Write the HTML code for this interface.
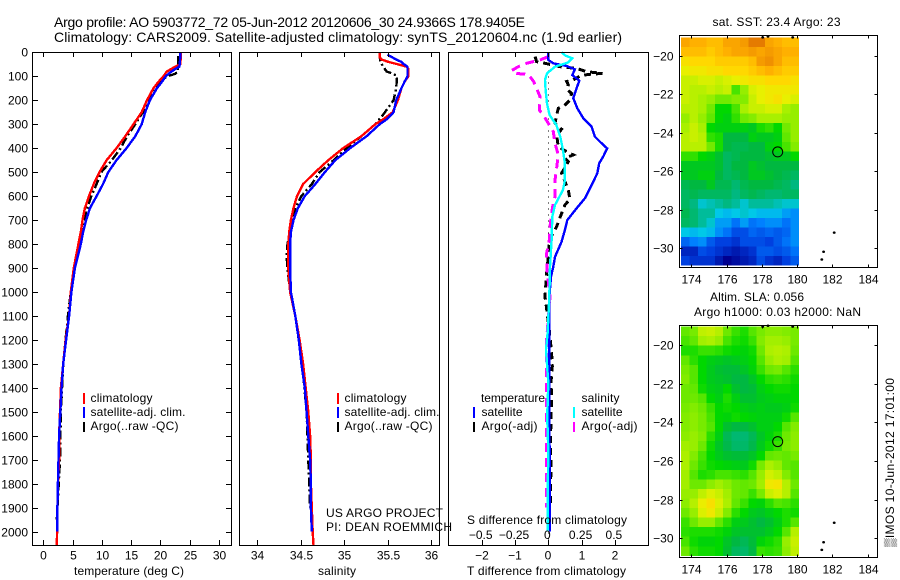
<!DOCTYPE html>
<html lang="en">
<head>
<meta charset="utf-8">
<title>Argo profile 5903772_72</title>
<style>
html,body{margin:0;padding:0;background:#fff;width:900px;height:580px;overflow:hidden}
svg{display:block}
text{font-family:"Liberation Sans",Arial,sans-serif;font-size:12px;fill:#000}
.title{font-size:14px}
</style>
</head>
<body>
<svg id="chart" xmlns="http://www.w3.org/2000/svg" width="900" height="580" viewBox="0 0 900 580">
  <rect x="0" y="0" width="900" height="580" fill="#fff"/>
  <g id="layer-maps"></g>
  <g id="layer-profiles"></g>
  <g id="layer-axes"></g>

  <text class="title" x="54" y="27" textLength="471" lengthAdjust="spacing">Argo profile: AO 5903772_72 05-Jun-2012 20120606_30 24.9366S 178.9405E</text>
  <text class="title" x="54" y="42" textLength="568" lengthAdjust="spacing">Climatology: CARS2009. Satellite-adjusted climatology: synTS_20120604.nc (1.9d earlier)</text>

  <text x="74" y="575" textLength="110" lengthAdjust="spacing">temperature (deg C)</text>
  <text x="318" y="575" textLength="38" lengthAdjust="spacing">salinity</text>
  <text x="467" y="575" textLength="159" lengthAdjust="spacing">T difference from climatology</text>
  <text x="467" y="524" textLength="160" lengthAdjust="spacing">S difference from climatology</text>

  <g>
    <rect x="83" y="393" width="2" height="11" fill="#f00"/>
    <rect x="83" y="407" width="2" height="11" fill="#00f"/>
    <rect x="83" y="422" width="2" height="10" fill="#000"/>
    <text x="90.5" y="402" textLength="62" lengthAdjust="spacing">climatology</text>
    <text x="90.5" y="416" textLength="95" lengthAdjust="spacing">satellite-adj. clim.</text>
    <text x="90.5" y="430" textLength="88" lengthAdjust="spacing">Argo(..raw -QC)</text>
  </g>
  <g>
    <rect x="337" y="393" width="2" height="11" fill="#f00"/>
    <rect x="337" y="407" width="2" height="11" fill="#00f"/>
    <rect x="337" y="422" width="2" height="10" fill="#000"/>
    <text x="344.5" y="402" textLength="62" lengthAdjust="spacing">climatology</text>
    <text x="344.5" y="416" textLength="95" lengthAdjust="spacing">satellite-adj. clim.</text>
    <text x="344.5" y="430" textLength="88" lengthAdjust="spacing">Argo(..raw -QC)</text>
  </g>
  <g>
    <text x="481" y="402" textLength="64" lengthAdjust="spacing">temperature</text>
    <rect x="473" y="407" width="2" height="11" fill="#00f"/>
    <rect x="473" y="422" width="2" height="10" fill="#000"/>
    <text x="481.5" y="416" textLength="41" lengthAdjust="spacing">satellite</text>
    <text x="481.5" y="430" textLength="56" lengthAdjust="spacing">Argo(-adj)</text>
    <text x="581.5" y="402" textLength="38" lengthAdjust="spacing">salinity</text>
    <rect x="573" y="407" width="2" height="11" fill="#0ff"/>
    <rect x="573" y="422" width="2" height="10" fill="#f0f"/>
    <text x="581.5" y="416" textLength="41" lengthAdjust="spacing">satellite</text>
    <text x="581.5" y="430" textLength="56" lengthAdjust="spacing">Argo(-adj)</text>
  </g>

  <text x="326" y="517" textLength="117" lengthAdjust="spacing">US ARGO PROJECT</text>
  <text x="326" y="531" textLength="126" lengthAdjust="spacing">PI: DEAN ROEMMICH</text>

  <text x="712.5" y="26" textLength="128" lengthAdjust="spacing">sat. SST: 23.4 Argo: 23</text>
  <text x="710" y="301" textLength="94" lengthAdjust="spacing">Altim. SLA: 0.056</text>
  <text x="694" y="316" textLength="167" lengthAdjust="spacing">Argo h1000: 0.03 h2000: NaN</text>
  <text transform="translate(894 547) rotate(-90)" x="0" y="0" textLength="169" lengthAdjust="spacing">▒IMOS 10-Jun-2012 17:01:00</text>
</svg>

<script>
/* ---------- axis tick labels ---------- */
var depthTicks = [0,100,200,300,400,500,600,700,800,900,1000,1100,1200,1300,1400,1500,1600,1700,1800,1900,2000];
var temperatureTicks = [0,5,10,15,20,25,30];
var salinityTicks = [34,34.5,35,35.5,36];
var tDiffTicks = [-2,-1,0,1,2];
var sDiffTicks = [-0.5,-0.25,0,0.25,0.5];
var lonTicks = [174,176,178,180,182,184];
var latTicks = [-20,-22,-24,-26,-28,-30];

/* ---------- temperature profiles (deg C) ---------- */
var tempClimDepths = [0,50,60,80,100,125,150,200,250,300,350,400,450,500,550,600,650,700,750,800,900,1000,1100,1200,1300,1400,1500,1600,1700,1800,1900,2000,2057];
var tempClimValues = [23.5,23.4,22.5,21.1,20.5,19.6,18.8,17.7,16.8,15.4,14,12.5,10.8,9.6,8.6,7.8,7.1,6.7,6.4,6.0,5.2,4.7,4.4,3.8,3.4,3.0,2.85,2.7,2.7,2.5,2.4,2.35,2.3];
var tempSatDepths = [0,50,60,70,85,100,125,150,200,250,300,350,400,450,500,550,600,650,700,750,800,900,1000,1100,1200,1300,1400,1500,1600,1700,1800,1900,2000];
var tempSatValues = [23.4,23.3,23.2,22.5,21.6,20.9,20.2,19.4,18.2,17.4,16.8,15.7,14.2,12.5,11.1,10.2,9.1,7.98,7.3,6.8,6.4,5.4,4.8,4.4,3.9,3.4,3.1,2.9,2.7,2.6,2.5,2.4,2.4];
var tempArgoDepths = [15,80,90,100,125,150,200,250,300,350,400,450,500,550,600,650,700,800,900,1000,1100,1300,1500,1700,1950];
var tempArgoValues = [23,23,22.5,21.1,20,19.1,18,17,15.7,14.3,13.2,11.7,9.9,9.1,8.2,7.5,6.9,6.1,5.2,4.7,4.2,3.4,3,2.85,2.3];

/* ---------- salinity profiles ---------- */
var salClimDepths = [0,20,30,40,50,60,70,100,120,150,200,250,280,300,350,400,450,500,550,600,650,700,750,800,900,1000,1100,1200,1300,1400,1500,1600,1700,1800,1900,2000,2057];
var salClimValues = [35.41,35.41,35.43,35.51,35.62,35.72,35.74,35.74,35.7,35.66,35.62,35.56,35.45,35.36,35.2,34.99,34.82,34.67,34.53,34.46,34.42,34.39,34.37,34.36,34.36,34.38,34.44,34.49,34.53,34.56,34.59,34.61,34.62,34.62,34.63,34.64,34.65];
var salSatDepths = [10,20,30,40,50,60,100,120,150,200,250,280,300,350,400,450,500,550,600,650,700,750,800,900,1000,1100,1200,1300,1400,1500,1600,1700,1800,1900,2000];
var salSatValues = [35.5,35.55,35.6,35.66,35.69,35.73,35.73,35.7,35.66,35.6,35.57,35.49,35.41,35.26,35.07,34.9,34.78,34.67,34.55,34.47,34.42,34.39,34.38,34.38,34.39,34.44,34.48,34.51,34.55,34.57,34.59,34.61,34.62,34.62,34.63];
var salArgoDepths = [0,20,40,60,80,90,100,150,200,230,260,300,350,400,450,500,550,600,650,700,800,850,900,1000,1100,1300,1500,1700,1900];
var salArgoValues = [35.41,35.41,35.42,35.45,35.49,35.57,35.61,35.6,35.57,35.51,35.45,35.36,35.2,35.03,34.88,34.72,34.63,34.51,34.44,34.4,34.35,34.34,34.35,34.38,34.44,34.52,34.57,34.59,34.61];

/* ---------- differences from climatology ---------- */
var tDiffSatDepths = [0,32,46,57,71,95,118,150,192,233,275,310,352,373,401,435,463,505,554,609,651,700,741,790,853,894,936,1020,1300,1700,2000];
var tDiffSatValues = [0,0,0.15,0.55,0.8,0.72,0.93,0.85,0.75,0.87,1.05,1.3,1.4,1.55,1.77,1.65,1.53,1.47,1.3,1.1,0.85,0.57,0.5,0.4,0.2,0.15,0.08,0.03,0.03,0.04,0.05];
var tDiffArgoDepths = [18,39,46,60,67,81,88,92,99,115,122,136,157,171,199,220,234,262,296,321,345,394,419,428,442,456,505,574,613,637,672,727,783,853,921,1020,1069,1160,1255,1310,1375,1445,1530,1600,1660,1730,1800,1890];
var tDiffArgoValues = [-0.4,-0.35,-0.1,0.35,0.85,1.15,1.63,1.2,0.95,0.75,0.55,0.6,0.57,0.7,0.65,0.5,0.3,0.25,0.2,0.4,0.25,0.3,0.6,0.75,0.5,0.6,0.4,0.6,0.65,0.5,0.4,0.25,0.03,0,-0.05,-0.1,-0.05,0.03,0.1,0.12,0.08,0.1,0.08,0.07,0.07,0.08,0.07,0.07];
var sDiffSatDepths = [0,14,25,42,60,88,115,157,213,262,303,352,408,463,533,574,637,686,783,894,1020,1171,1240,1380,1520,1660,1870,1995];
var sDiffSatValues = [0.1,0.13,0.18,0.15,0.05,-0.01,-0.025,-0.02,-0.01,0.01,0.06,0.09,0.11,0.125,0.125,0.11,0.05,0.03,0.025,0.0125,0.0075,-0.005,-0.0175,0,-0.008,0,-0.005,-0.005];
var sDiffArgoDepths = [18,32,46,60,76,88,92,122,150,185,241,261,296,331,380,428,484,533,602,644,727,783,838,921,1020,1200,1500,1700,1900];
var sDiffArgoValues = [0,-0.0625,-0.1625,-0.225,-0.275,-0.25,-0.15,-0.11,-0.0875,-0.0625,-0.0675,-0.0375,0,0.0375,0.05,0.075,0.0625,0.05,0.05,0.0325,0.0125,0.0075,-0.0125,-0.0075,0.0125,-0.0125,-0.0125,-0.0125,-0.0125];
var zeroLineDepths = [0,2057];
var zeroLineValues = [0,0];

/* ---------- map grids: cells about 0.5 degree, north to south ---------- */
var gridLons = [173.42,173.9,174.37,174.85,175.33,175.8,176.28,176.76,177.24,177.71,178.19,178.67,179.14,179.62];
var gridLats = [-19.05,-19.544,-20.038,-20.532,-21.026,-21.52,-22.014,-22.508,-23.002,-23.496,-23.99,-24.484,-24.978,-25.472,-25.966,-26.46,-26.954,-27.448,-27.942,-28.436,-28.93,-29.424,-29.918,-30.412];
var sstRows = [
[25.1,25.0,25.0,24.9,24.9,25.1,25.1,25.2,25.5,25.5,25.1,25.0,24.9,24.9],
[24.9,24.9,24.9,24.8,24.9,25.0,25.1,25.1,25.2,25.1,25.2,25.1,25.0,25.0],
[24.6,24.7,24.7,24.7,24.8,24.8,24.8,24.8,24.9,25.2,25.3,25.1,24.9,24.9],
[24.4,24.5,24.5,24.6,24.6,24.7,24.7,24.7,24.8,24.9,25.0,24.9,24.8,24.8],
[24.2,24.2,24.3,24.3,24.2,24.3,24.4,24.5,24.6,24.6,24.7,24.7,24.7,24.6],
[24.2,24.1,24.1,24.2,24.1,24.2,23.5,23.9,24.3,24.4,24.5,24.5,24.5,24.5],
[24.2,24.1,24.0,23.9,23.7,23.7,23.8,23.8,24.2,24.4,24.5,24.6,24.4,24.3],
[24.1,24.1,24.0,23.7,23.2,23.2,23.5,24.0,24.2,24.2,24.3,24.3,24.0,23.9],
[23.9,24.1,23.9,23.6,23.2,23.1,23.4,23.7,23.8,24.0,24.0,24.0,23.9,23.9],
[24.0,24.2,24.0,23.2,23.1,23.1,23.1,23.1,23.0,23.3,23.4,23.2,23.7,23.9],
[24.1,24.2,24.1,23.4,23.3,22.8,22.8,22.8,23.1,23.0,23.0,23.1,23.6,23.9],
[24.1,24.1,24.1,23.7,23.3,22.8,22.7,22.7,22.8,22.8,23.1,23.2,23.5,23.8],
[23.4,23.4,23.2,23.1,22.9,22.6,22.7,22.8,22.8,22.8,22.9,23.0,23.0,23.2],
[23.0,23.0,23.0,23.0,22.9,22.6,22.8,22.8,23.0,22.9,22.8,22.8,22.8,22.8],
[23.0,23.0,23.1,23.1,22.8,22.6,22.7,22.8,23.0,23.0,22.9,22.8,22.7,22.6],
[22.7,22.8,22.8,23.0,22.7,22.7,22.5,22.7,22.8,22.8,22.8,22.7,22.6,22.4],
[22.6,22.7,22.6,22.6,22.6,22.6,22.4,22.6,22.7,22.6,22.5,22.5,22.6,22.6],
[22.6,22.4,22.1,22.2,22.3,22.4,22.3,22.1,22.3,22.3,22.3,22.2,22.1,22.1],
[22.7,22.5,22.3,22.3,22.0,21.9,22.0,22.1,22.0,21.9,21.9,21.9,21.7,21.6],
[22.6,22.5,22.3,22.1,21.7,21.7,21.4,21.7,21.4,21.5,21.6,21.6,21.4,21.6],
[22.0,21.9,22.0,21.9,21.6,21.4,21.1,21.1,21.3,21.2,21.3,21.2,21.3,21.6],
[21.3,21.5,21.6,21.2,21.0,21.0,20.9,21.1,21.1,21.1,21.0,21.2,21.4,21.6],
[20.8,20.8,21.1,21.0,20.9,20.8,20.7,20.8,20.9,21.2,21.2,21.1,21.2,21.4],
[21.0,20.9,20.9,20.9,20.7,20.5,20.6,20.7,20.8,21.1,20.9,20.8,21.0,21.2]
];
var slaRows = [
[0.09,0.11,0.18,0.19,0.17,0.10,0.06,0.04,0.08,0.11,0.13,0.13,0.12,0.11],
[0.07,0.09,0.15,0.16,0.14,0.07,0.04,0.03,0.06,0.12,0.15,0.15,0.14,0.11],
[0.04,0.04,0.06,0.06,0.05,0.03,0.02,0.01,0.03,0.10,0.16,0.17,0.16,0.10],
[0.09,0.05,0.02,0.00,-0.01,-0.02,-0.01,0.00,0.02,0.08,0.14,0.16,0.15,0.08],
[0.11,0.08,0.02,-0.01,-0.03,-0.04,-0.04,-0.02,0.01,0.06,0.10,0.11,0.08,0.05],
[0.12,0.08,0.02,-0.01,-0.02,-0.03,-0.05,-0.05,-0.02,0.02,0.05,0.06,0.05,0.03],
[0.10,0.09,0.03,0.00,-0.01,0.02,-0.03,-0.05,-0.04,0.00,0.02,0.03,0.03,0.02],
[0.10,0.10,0.08,0.02,0.00,0.04,0.00,-0.03,-0.03,-0.01,0.00,0.01,0.01,0.02],
[0.11,0.12,0.10,0.06,0.02,0.03,0.02,0.00,-0.01,0.00,-0.01,-0.01,0.00,0.03],
[0.12,0.13,0.11,0.07,0.02,0.01,0.03,0.02,0.01,0.00,0.00,0.00,0.03,0.08],
[0.12,0.13,0.11,0.08,0.02,-0.03,-0.05,-0.05,-0.03,0.00,0.00,0.02,0.08,0.12],
[0.13,0.14,0.12,0.05,0.00,-0.07,-0.10,-0.10,-0.07,-0.02,0.01,0.04,0.10,0.13],
[0.15,0.14,0.10,0.03,-0.02,-0.06,-0.09,-0.09,-0.06,-0.01,0.03,0.06,0.11,0.13],
[0.16,0.12,0.07,0.02,-0.01,-0.03,-0.04,-0.04,-0.02,0.02,0.09,0.10,0.09,0.11],
[0.16,0.10,0.06,0.03,0.02,0.01,0.00,-0.01,0.03,0.11,0.16,0.14,0.09,0.08],
[0.15,0.08,0.04,0.05,0.07,0.07,0.06,0.05,0.08,0.14,0.20,0.18,0.12,0.08],
[0.15,0.10,0.10,0.13,0.15,0.13,0.10,0.09,0.10,0.15,0.24,0.25,0.17,0.10],
[0.14,0.14,0.18,0.21,0.19,0.15,0.10,0.09,0.06,0.11,0.19,0.21,0.17,0.08],
[0.13,0.17,0.23,0.26,0.21,0.16,0.09,0.06,0.02,0.01,0.05,0.08,0.07,0.05],
[0.10,0.14,0.21,0.24,0.19,0.12,0.05,0.02,-0.01,-0.02,0.00,0.02,0.04,0.03],
[0.06,0.10,0.14,0.14,0.09,0.05,0.00,-0.01,-0.03,-0.05,-0.03,0.00,0.04,0.08],
[0.05,0.04,0.04,0.04,0.03,0.01,-0.02,-0.03,-0.03,-0.03,-0.01,0.02,0.08,0.17],
[0.07,0.03,0.01,0.01,0.02,-0.02,-0.05,-0.07,-0.04,0.01,0.03,0.05,0.14,0.19],
[0.10,0.05,0.03,0.03,0.02,-0.03,-0.08,-0.09,-0.05,0.06,0.05,0.06,0.13,0.18]
];
var floatLon = [178.9];
var floatLat = [-25];
var islandLons = [178.05,178.35,179.75,182.1,181.5,181.4];
var islandLats = [-19.05,-19.0,-19.05,-29.2,-30.2,-30.6];

/* ---------- colour scale ---------- */
var sstScaleStops = [20.5,21,21.5,22,22.4,22.8,23.2,23.6,24,24.4,24.7,25,25.3,25.6];
var scaleColors = ['#000090','#0040e0','#0080ff','#00c8e8','#00b880','#00b840','#00d800','#60e800','#a8f000','#e8f000','#ffd800','#ffb000','#f09000','#e07000'];

/* ---------- axis functions ---------- */
var svgNS = 'http://www.w3.org/2000/svg';
function depthY(d){ return 52.3 + d * 0.2397; }
function tempX(t){ return 43.3 + t * 5.857; }
function salX(s){ return 257 + (s - 34) * 87; }
function tDiffX(t){ return 548.3 + t * 33.3; }
function sDiffX(s){ return 548.3 + s * 133.2; }
function lonX(lon){ return 691.3 + (lon - 174) * 17.64; }
function sstLatY(lat){ return 55.7 + (-20 - lat) * 19.23; }
function slaLatY(lat){ return 345 + (-20 - lat) * 19.33; }
function slaToSst(v){ return 23.2 + (v - 0.02) / 0.17; }
function colorFor(v){
  var c = Math.max(sstScaleStops[0], Math.min(v, sstScaleStops[sstScaleStops.length - 1]));
  for (var i = 0; i < sstScaleStops.length - 1; i++) {
    if (c <= sstScaleStops[i + 1]) {
      var f = (c - sstScaleStops[i]) / (sstScaleStops[i + 1] - sstScaleStops[i]);
      var a = parseInt(scaleColors[i].slice(1), 16), b = parseInt(scaleColors[i + 1].slice(1), 16);
      var r = Math.round((a >> 16) + ((b >> 16) - (a >> 16)) * f);
      var g = Math.round(((a >> 8) & 255) + (((b >> 8) & 255) - ((a >> 8) & 255)) * f);
      var bl = Math.round((a & 255) + ((b & 255) - (a & 255)) * f);
      return 'rgb(' + r + ',' + g + ',' + bl + ')';
    }
  }
  return scaleColors[scaleColors.length - 1];
}

var axesLayer = document.getElementById('layer-axes');
var profileLayer = document.getElementById('layer-profiles');
var mapLayer = document.getElementById('layer-maps');

function drawProfile(name, depths, values, xFn, color, width, dash){
  var el = document.createElementNS(svgNS, 'polyline');
  
  
  var pts = [];
  for (var i = 0; i < depths.length; i++) {
    pts.push(xFn(values[i]).toFixed(1) + ',' + depthY(depths[i]).toFixed(1));
  }
  el.setAttribute('points', pts.join(' '));
  el.setAttribute('fill', 'none');
  el.setAttribute('stroke', color);
  el.setAttribute('stroke-width', width);
  el.setAttribute('shape-rendering', 'crispEdges');
  if (dash) el.setAttribute('stroke-dasharray', dash);
  profileLayer.appendChild(el);
}

function drawTick(x1, y1, x2, y2){
  var el = document.createElementNS(svgNS, 'line');
  
  
  el.setAttribute('x1', x1);
  el.setAttribute('y1', y1);
  el.setAttribute('x2', x2);
  el.setAttribute('y2', y2);
  el.setAttribute('stroke', '#000');
  el.setAttribute('stroke-width', '1');
  el.setAttribute('shape-rendering', 'crispEdges');
  axesLayer.appendChild(el);
}

function drawLabel(txt, x, y, anchor){
  var el = document.createElementNS(svgNS, 'text');
  
  
  el.setAttribute('x', x);
  el.setAttribute('y', y);
  el.setAttribute('text-anchor', anchor);
  el.textContent = txt;
  axesLayer.appendChild(el);
}

function drawBox(name, x1, y1, x2, y2){
  var el = document.createElementNS(svgNS, 'rect');
  
  
  el.setAttribute('x', x1);
  el.setAttribute('y', y1);
  el.setAttribute('width', x2 - x1);
  el.setAttribute('height', y2 - y1);
  el.setAttribute('fill', 'none');
  el.setAttribute('stroke', '#000');
  el.setAttribute('stroke-width', '1');
  el.setAttribute('shape-rendering', 'crispEdges');
  axesLayer.appendChild(el);
}

function minusText(v){ return String(v).replace('-', '\u2212'); }
function px(v){ return Math.round(v) + 0.5; }

/* profile panel frames */
drawBox('temperature-panel-frame', 32.5, 52.5, 231.5, 545.5);
drawBox('salinity-panel-frame', 239.5, 52.5, 439.5, 545.5);
drawBox('difference-panel-frame', 448.5, 52.5, 648.5, 545.5);

depthTicks.forEach(function(d){
  var y = px(depthY(d));
  drawTick(32.5, y, 38, y);
  drawTick(226, y, 231.5, y);
  drawLabel(String(d), 28, y + 4, 'end');
});
temperatureTicks.forEach(function(t){
  var x = px(tempX(t));
  drawTick(x, 52.5, x, 57);
  drawTick(x, 540, x, 545.5);
  drawLabel(String(t), x, 559.5, 'middle');
});
salinityTicks.forEach(function(s){
  var x = px(salX(s));
  drawTick(x, 52.5, x, 57);
  drawTick(x, 540, x, 545.5);
  drawLabel(String(s), x, 559.5, 'middle');
});
tDiffTicks.forEach(function(t){
  var x = px(tDiffX(t));
  drawTick(x, 52.5, x, 57);
  drawTick(x, 540, x, 545.5);
  drawLabel(minusText(t), x - 0.5, 559.5, 'middle');
});
sDiffTicks.forEach(function(s){
  drawLabel(minusText(s), sDiffX(s) - 1, 539, 'middle');
});

/* temperature panel */
drawProfile('temperature-argo-line', tempArgoDepths, tempArgoValues, tempX, '#000', 2.4, '9 3 2 3');
drawProfile('temperature-climatology-line', tempClimDepths, tempClimValues, tempX, '#f00', 2.4);
drawProfile('temperature-satellite-line', tempSatDepths, tempSatValues, tempX, '#00f', 2.4);

/* salinity panel */
drawProfile('salinity-argo-line', salArgoDepths, salArgoValues, salX, '#000', 2.4, '9 3 2 3');
drawProfile('salinity-climatology-line', salClimDepths, salClimValues, salX, '#f00', 2.4);
drawProfile('salinity-satellite-line', salSatDepths, salSatValues, salX, '#00f', 2.4);

/* difference panel */
drawProfile('difference-zero-line', zeroLineDepths, zeroLineValues, tDiffX, '#000', 1, '1 5');
drawProfile('t-difference-argo-line', tDiffArgoDepths, tDiffArgoValues, tDiffX, '#000', 3, '7 5');
drawProfile('s-difference-argo-line', sDiffArgoDepths, sDiffArgoValues, sDiffX, '#f0f', 3, '9 6');
drawProfile('t-difference-satellite-line', tDiffSatDepths, tDiffSatValues, tDiffX, '#00f', 2.4);
drawProfile('s-difference-satellite-line', sDiffSatDepths, sDiffSatValues, sDiffX, '#0ff', 2.4);

/* maps */
function drawCells(rows, latFn, toScale, cellName, groupName){
  var g = document.createElementNS(svgNS, 'g');
  
  
  var cellW = lonX(gridLons[1]) - lonX(gridLons[0]);
  var cellH = latFn(gridLats[1]) - latFn(gridLats[0]);
  rows.forEach(function(row, j){
    row.forEach(function(v, i){
      var rect = document.createElementNS(svgNS, 'rect');
      
      
      rect.setAttribute('x', lonX(gridLons[i]).toFixed(2));
      rect.setAttribute('y', latFn(gridLats[j]).toFixed(2));
      rect.setAttribute('width', (cellW + 0.3).toFixed(2));
      rect.setAttribute('height', (cellH + 0.3).toFixed(2));
      rect.setAttribute('fill', colorFor(toScale(v)));
      rect.setAttribute('shape-rendering', 'crispEdges');
      g.appendChild(rect);
    });
  });
  mapLayer.appendChild(g);
}
function identity(v){ return v; }
drawCells(sstRows, sstLatY, identity, 'sst-cell', 'sst-heatmap');
drawCells(slaRows, slaLatY, slaToSst, 'sla-cell', 'sla-heatmap');

function drawMapFurniture(top, bottom, latFn, labelY, prefix){
  drawBox(prefix + '-map-frame', 679.5, top, 877.5, bottom);
  lonTicks.forEach(function(lon){
    var x = px(lonX(lon));
    drawTick(x, top, x, top + 3);
    drawTick(x, bottom - 3, x, bottom);
    drawLabel(String(lon), x, labelY, 'middle');
  });
  latTicks.forEach(function(lat){
    var y = px(latFn(lat));
    drawTick(679.5, y, 682.5, y);
    drawTick(874.5, y, 877.5, y);
    drawLabel(minusText(lat), 673.5, y + 4, 'end');
  });
  islandLons.forEach(function(lon, i){
    var isl = document.createElementNS(svgNS, 'ellipse');
    
    
    isl.setAttribute('cx', lonX(lon).toFixed(1));
    isl.setAttribute('cy', latFn(islandLats[i]).toFixed(1));
    isl.setAttribute('rx', '1.1');
    isl.setAttribute('ry', '0.9');
    isl.setAttribute('fill', '#000');
    isl.setAttribute('stroke', '#000');
    isl.setAttribute('stroke-width', '0.7');
    axesLayer.appendChild(isl);
  });
  floatLon.forEach(function(lon, i){
    var mark = document.createElementNS(svgNS, 'circle');
    
    
    mark.setAttribute('cx', lonX(lon).toFixed(1));
    mark.setAttribute('cy', latFn(floatLat[i]).toFixed(1));
    mark.setAttribute('r', '5');
    mark.setAttribute('fill', 'none');
    mark.setAttribute('stroke', '#000');
    mark.setAttribute('stroke-width', '1');
    axesLayer.appendChild(mark);
  });
}
drawMapFurniture(35.5, 267.5, sstLatY, 283.5, 'sst');
drawMapFurniture(325.5, 557.5, slaLatY, 573.5, 'sla');
</script>
</body>
</html>
